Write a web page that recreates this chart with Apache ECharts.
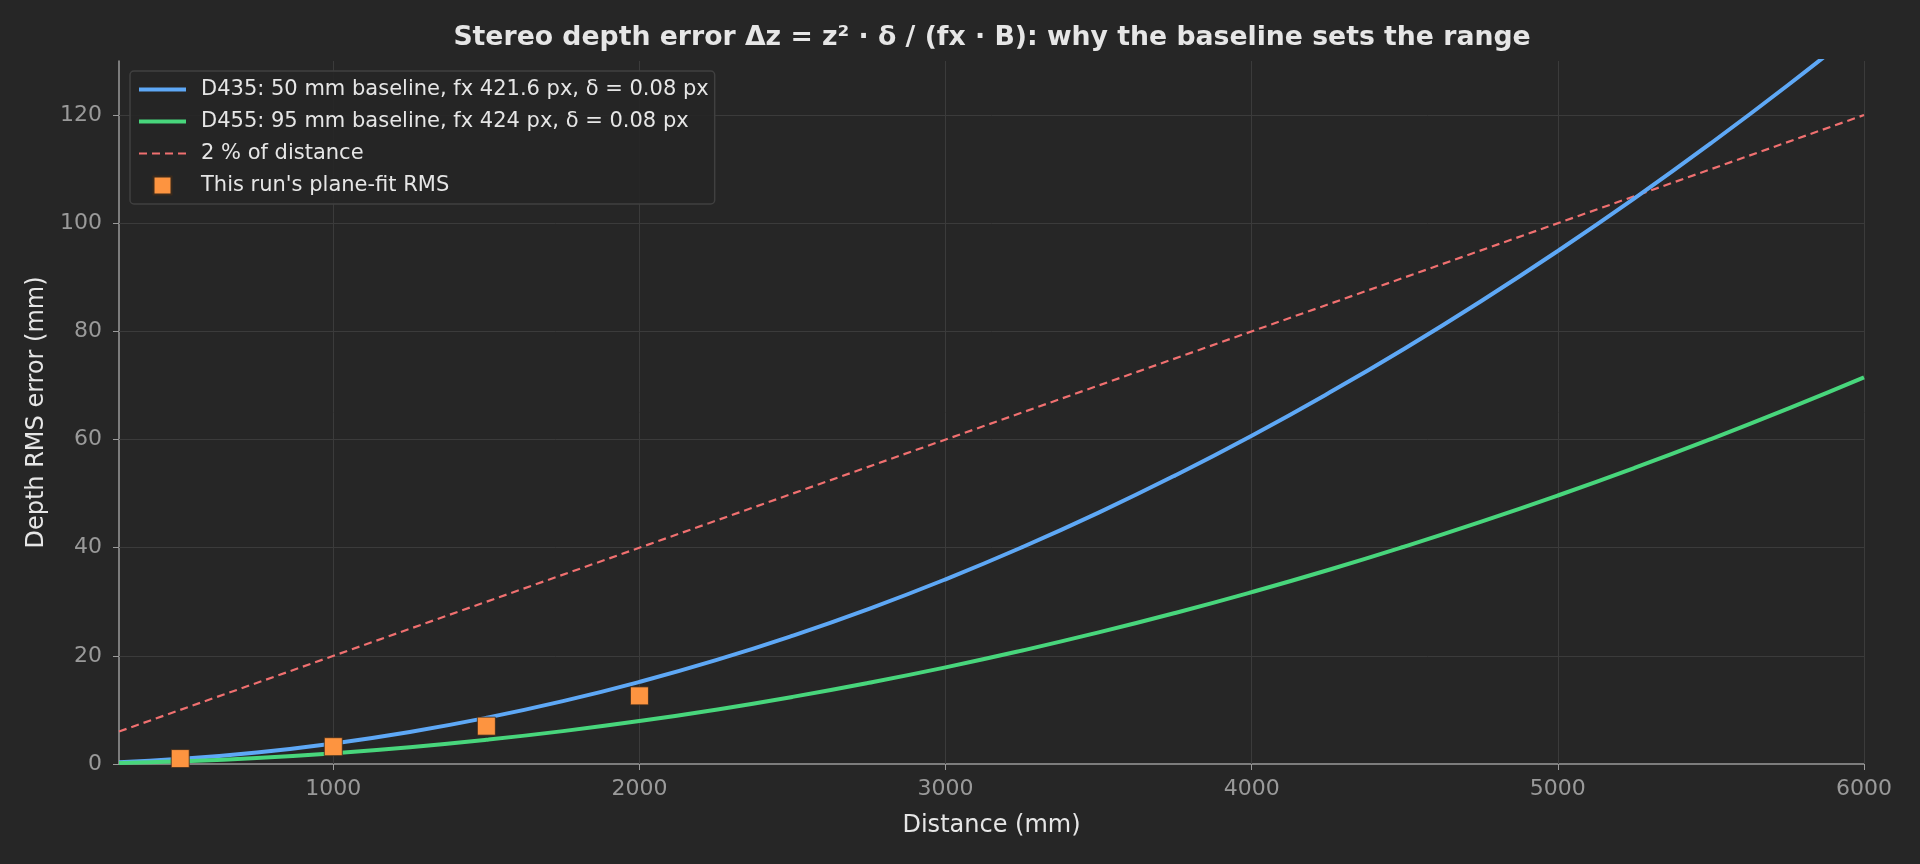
<!DOCTYPE html>
<html>
<head>
    <meta charset="utf-8" />
    <title>Stereo depth error</title>
    <style>
        html, body { margin: 0; padding: 0; background: #262626; }
        #depth-chart { width: 1920px; height: 864px; }
    </style>
</head>
<body>
    <div id="depth-chart"></div>
    <script src="https://cdn.jsdelivr.net/npm/echarts@6/dist/echarts.min.js"></script>
<script>
    // distances (mm) where the curves were read
    var distances = [300, 500, 750, 1000, 1250, 1500, 1750, 2000, 2250, 2500, 2750, 3000,
        3250, 3500, 3750, 4000, 4250, 4500, 4750, 5000, 5250, 5500, 5750, 6000];
    var d435 = [0.34, 0.95, 2.13, 3.80, 5.93, 8.54, 11.62, 15.18, 19.21, 23.72, 28.70, 34.16,
        40.09, 46.49, 53.37, 60.72, 68.55, 76.85, 85.63, 94.88, 104.60, 114.80, 125.47, 136.62];
    var d455 = [0.18, 0.50, 1.12, 1.99, 3.10, 4.47, 6.08, 7.94, 10.05, 12.41, 15.02, 17.87,
        20.98, 24.33, 27.93, 31.78, 35.87, 40.22, 44.81, 49.65, 54.74, 60.08, 65.67, 71.50];
    // 2 % reference line
    var refX = [300, 6000];
    var refY = [6, 120];
    // measured plane-fit RMS
    var runX = [500, 1000, 1500, 2000];
    var runY = [1.0, 3.2, 7.0, 12.6];
    // tick labels
    var xTicks = [1000, 2000, 3000, 4000, 5000, 6000];
    var yTicks = [0, 20, 40, 60, 80, 100, 120];

    var names = [
        "D435: 50 mm baseline, fx 421.6 px, δ = 0.08 px",
        "D455: 95 mm baseline, fx 424 px, δ = 0.08 px",
        "2 % of distance",
        "This run's plane-fit RMS"
    ];

    function pairs(xs, ys) {
        return xs.map(function (x, i) { return [x, ys[i]]; });
    }

    var font = "DejaVu Sans";
    var gridColor = "#3b3b3b";
    var tickColor = "#9a9a9a";

    var myChart = echarts.init(document.getElementById("depth-chart"));
    var option = {
        backgroundColor: "#262626",
        animation: false,
        title: {
            text: "Stereo depth error Δz = z² · δ / (fx · B): why the baseline sets the range",
            left: 987,
            top: 20,
            textAlign: "center",
            textStyle: { color: "#e6e6e6", fontFamily: font, fontSize: 26.7, fontWeight: "bold" }
        },
        grid: { left: 119, right: 56, top: 61, bottom: 100 },
        legend: {
            orient: "vertical",
            left: 130,
            top: 71,
            padding: [8, 6, 8, 7],
            itemWidth: 47,
            itemHeight: 18,
            itemGap: 11,
            z: 6,
            backgroundColor: "rgba(38,38,38,0.9)",
            borderColor: "#404040",
            borderWidth: 1.5,
            borderRadius: 4,
            textStyle: { color: "#e6e6e6", fontFamily: font, fontSize: 21, padding: [0, 0, 0, 10] },
            data: [
                { name: names[0], itemStyle: { opacity: 0 }, lineStyle: { width: 4 } },
                { name: names[1], itemStyle: { opacity: 0 }, lineStyle: { width: 4 } },
                { name: names[2], itemStyle: { opacity: 0 }, lineStyle: { width: 2.2 } },
                { name: names[3], icon: "path://M0,0L10,0L10,10L0,10Z" }
            ]
        },
        xAxis: {
            type: "value",
            min: 300,
            max: 6000,
            name: "Distance (mm)",
            nameLocation: "middle",
            nameGap: 50,
            nameTextStyle: { color: "#e6e6e6", fontFamily: font, fontSize: 24 },
            axisLine: { lineStyle: { color: tickColor, width: 1.5 } },
            axisTick: { customValues: xTicks, length: 6, lineStyle: { color: tickColor } },
            axisLabel: {
                customValues: xTicks, color: tickColor, fontFamily: font, fontSize: 22, margin: 14,
                formatter: function (v) { return String(v); }
            },
            splitLine: { show: false }
        },
        yAxis: {
            type: "value",
            min: 0,
            max: 130,
            name: "Depth RMS error (mm)",
            nameLocation: "middle",
            nameGap: 69,
            nameTextStyle: { color: "#e6e6e6", fontFamily: font, fontSize: 24 },
            axisLine: { show: true, lineStyle: { color: tickColor, width: 1.5 } },
            axisTick: { show: true, customValues: yTicks, length: 6, lineStyle: { color: tickColor } },
            axisLabel: {
                customValues: yTicks, color: tickColor, fontFamily: font, fontSize: 22, margin: 17,
                formatter: function (v) { return String(v); }
            },
            splitLine: { show: false }
        },
        series: [
            {
                name: "grid",
                type: "line",
                data: [],
                z: 0,
                markLine: {
                    silent: true,
                    z: 1,
                    symbol: ["none", "none"],
                    label: { show: false },
                    lineStyle: { color: gridColor, type: "solid", width: 1 },
                    data: xTicks.map(function (v) { return { xAxis: v }; })
                        .concat(yTicks.slice(1).map(function (v) { return { yAxis: v }; }))
                }
            },
            {
                name: names[0],
                type: "line",
                smooth: true,
                symbol: "none",
                color: "#5ea8f6",
                lineStyle: { width: 4 },
                z: 3,
                data: pairs(distances, d435)
            },
            {
                name: names[1],
                type: "line",
                smooth: true,
                symbol: "none",
                color: "#48d67c",
                lineStyle: { width: 4 },
                z: 3,
                data: pairs(distances, d455)
            },
            {
                name: names[2],
                type: "line",
                symbol: "none",
                color: "#f07070",
                lineStyle: { width: 2.2, type: [8, 5] },
                z: 2,
                data: pairs(refX, refY)
            },
            {
                name: names[3],
                type: "scatter",
                symbol: "rect",
                symbolSize: 18,
                color: "#fd9440",
                itemStyle: { opacity: 1, borderColor: "#3a2a1c", borderWidth: 0.8 },
                z: 4,
                data: pairs(runX, runY)
            }
        ]
    };

    myChart.setOption(option);
</script>
</body>
</html>
